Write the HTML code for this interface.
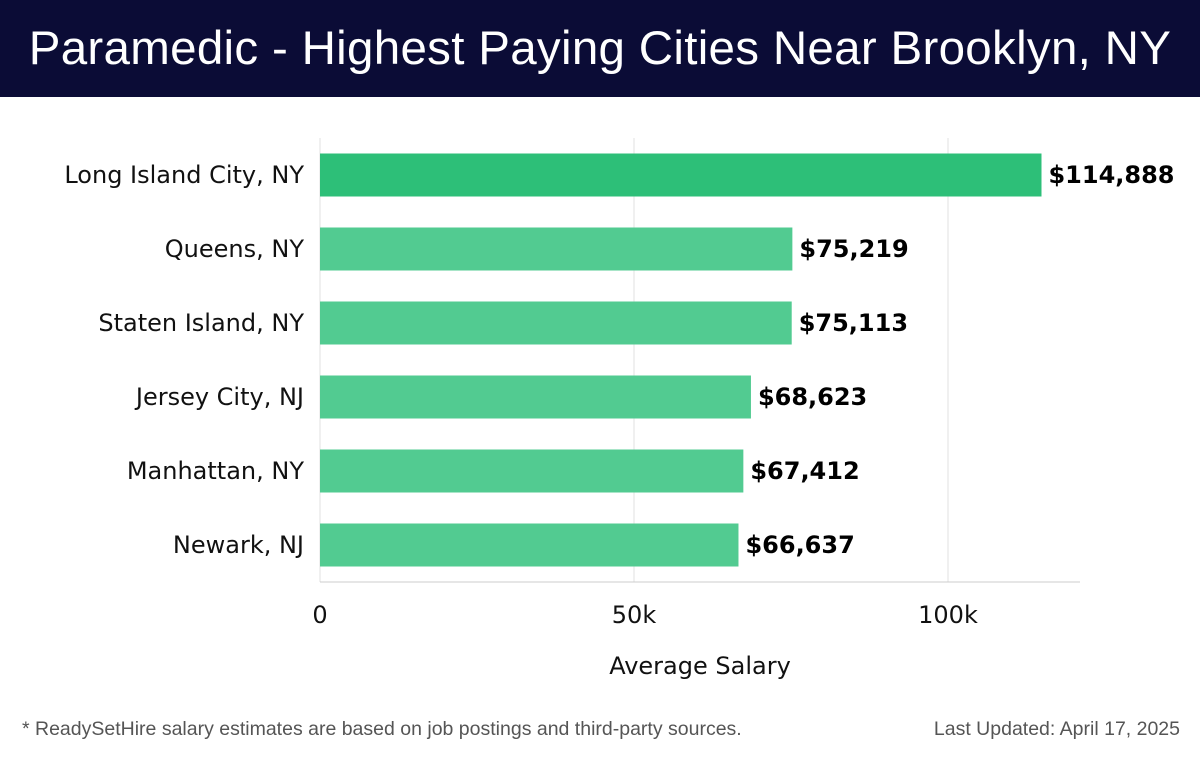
<!DOCTYPE html>
<html><head><meta charset="utf-8">
<style>
html,body{margin:0;padding:0;background:#fff;}
body{width:1200px;height:758px;overflow:hidden;position:relative;font-family:"Liberation Sans",sans-serif;}
#hdr{position:absolute;left:0;top:0;width:1200px;height:97px;background:#0b0c36;}
#hdr div{color:#fff;font-size:47.5px;text-align:center;line-height:97px;letter-spacing:0.3px;}
#foot-l{position:absolute;left:22px;top:718px;font-size:19.5px;color:#555;}
#foot-r{position:absolute;right:20px;top:718px;font-size:19.5px;color:#555;}
svg text{font-family:"DejaVu Sans",sans-serif;}
</style></head><body>
<div id="hdr"><div>Paramedic - Highest Paying Cities Near Brooklyn, NY</div></div>
<svg id="chart" width="1200" height="758" style="position:absolute;left:0;top:0"></svg>
<div id="foot-l">* ReadySetHire salary estimates are based on job postings and third-party sources.</div>
<div id="foot-r">Last Updated: April 17, 2025</div>
<script>
const categories=["Long Island City, NY","Queens, NY","Staten Island, NY","Jersey City, NJ","Manhattan, NY","Newark, NJ"];
const salaries=[114888,75219,75113,68623,67412,66637];
const tickValues=[0,50000,100000];
const tickLabels=["0","50k","100k"];
const svg=document.getElementById('chart');
const NS='http://www.w3.org/2000/svg';
const x0=320,pxPer=314/50000,plotTop=138,plotBottom=582,band=74,barH=43,firstC=175;
const xs=v=>x0+v*pxPer;
const yc=i=>firstC+i*band;
function mk(t,a){const e=document.createElementNS(NS,t);for(const k in a)e.setAttribute(k,a[k]);svg.appendChild(e);return e;}
tickValues.forEach((v,i)=>{
 const g=mk('line',{x1:xs(v),x2:xs(v),y1:plotTop,y2:plotBottom,stroke:'#e2e2e2','stroke-width':1});
 
 
 const t=mk('text',{x:xs(v),y:623,'text-anchor':'middle','font-size':24,fill:'#111'});
 t.textContent=tickLabels[i];
 
 
});
const ax=mk('line',{x1:x0,x2:1080,y1:plotBottom,y2:plotBottom,stroke:'#ccc','stroke-width':1});


categories.forEach((c,i)=>{
 const r=mk('rect',{x:x0,y:yc(i)-barH/2,width:xs(salaries[i])-x0,height:barH,fill:i===0?'#2dbf78':'#52cb91'});
 
 
 const l=mk('text',{x:304,y:yc(i)+8,'text-anchor':'end','font-size':24,fill:'#111'});
 l.textContent=c;
 
 
 const v=mk('text',{x:xs(salaries[i])+7,y:yc(i)+8,'font-size':24,'font-weight':'bold',fill:'#000'});
 v.textContent='$'+salaries[i].toLocaleString('en-US');
 
 
});
const at=mk('text',{x:700,y:674,'text-anchor':'middle','font-size':24,fill:'#111'});
at.textContent='Average Salary';


</script>
</body></html>
